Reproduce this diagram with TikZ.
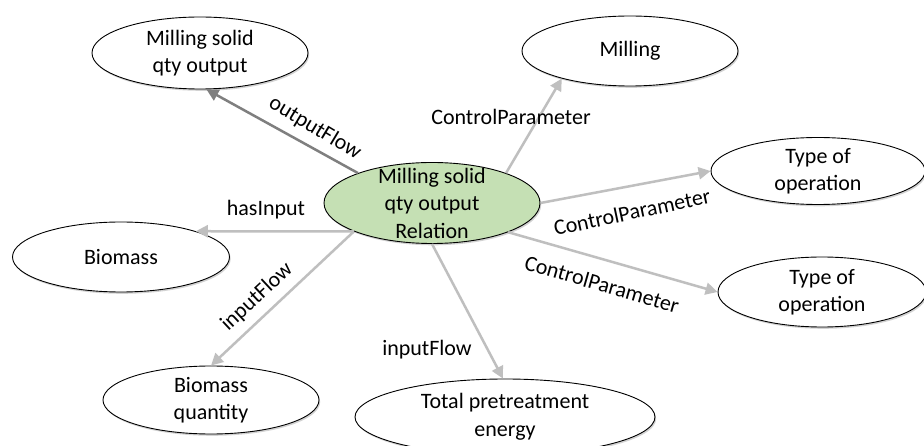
\documentclass[tikz,border=0pt]{standalone}
\usepackage{fontspec}
\setmainfont{Carlito}
\usetikzlibrary{arrows.meta,shapes.geometric,shadows}
\definecolor{cgreen}{RGB}{197,224,180}
\definecolor{lgray}{RGB}{191,191,191}
\definecolor{dgray}{RGB}{127,127,127}
\begin{document}
\begin{tikzpicture}[x=1pt,y=-1pt,
  ent/.style={ellipse, draw=black, line width=0.9pt, fill=white, inner sep=0pt,
    drop shadow={shadow xshift=1.2pt,shadow yshift=-1.8pt,opacity=0.35}},
  txt/.style={align=center, font=\fontsize{22}{27.5}\selectfont, inner sep=0pt},
  lbl/.style={font=\fontsize{22}{27.5}\selectfont, inner sep=0pt},
  rel/.style={draw=lgray, line width=2.5pt, -{Triangle[length=12pt,width=12pt]}},
]
\useasboundingbox (0,0) rectangle (924,446);
\fill[white] (0,0) rectangle (924,446);

% entity ellipses
\node[ent, minimum width=216pt, minimum height=72pt] (tl) at (200,53) {};
\node[ent, minimum width=216pt, minimum height=70pt] (mil) at (630,51) {};
\node[ent, minimum width=214pt, minimum height=67pt] (t1) at (818,171) {};
\node[ent, minimum width=208pt, minimum height=70pt] (t2) at (822,292) {};
\node[ent, fill=cgreen, minimum width=216pt, minimum height=81pt] (c) at (432,203) {};
\node[ent, minimum width=217pt, minimum height=70pt] (bio) at (121,257) {};
\node[ent, minimum width=216pt, minimum height=68pt] (bq) at (211,400) {};
\node[ent, minimum width=300pt, minimum height=76pt] (tot) at (505,417) {};

% texts inside ellipses
\node[txt] (tlt) at (tl.center) {Milling solid\\qty output};
\node[txt] (milt) at (mil.center) {Milling};
\node[txt] (t1t) at (t1.center) {Type of\\operation};
\node[txt] (t2t) at (t2.center) {Type of\\operation};
\node[txt] (ct) at (c.center) {Milling solid\\qty output\\Relation};
\node[txt] (biot) at (bio.center) {Biomass};
\node[txt] (bqt) at (bq.center) {Biomass\\quantity};
\node[txt] (tott) at (tot.center) {Total pretreatment\\energy};

% connectors
\draw[rel, draw=dgray] (c.158) -- (tl.-80);
\draw[rel] (c.22) -- (mil.-158);
\draw[rel] (c.0) -- (t1.180);
\draw[rel] (c.-21) -- (t2.180);
\draw[rel] (c.-160) -- (bio.19);
\draw[rel] (c.-160) -- (bq.90);
\draw[rel] (c.-90) -- (tot.93);

% connector labels
\node[lbl, rotate=-31] (l1) at (315,128) {outputFlow};
\node[lbl] (l2) at (511,117) {ControlParameter};
\node[lbl, rotate=12] (l3) at (632,212) {ControlParameter};
\node[lbl, rotate=-16] (l4) at (602,284) {ControlParameter};
\node[lbl] (l5) at (266,210) {hasInput};
\node[lbl, rotate=43] (l6) at (257,297) {inputFlow};
\node[lbl] (l7) at (427,350) {inputFlow};
\end{tikzpicture}
\end{document}
